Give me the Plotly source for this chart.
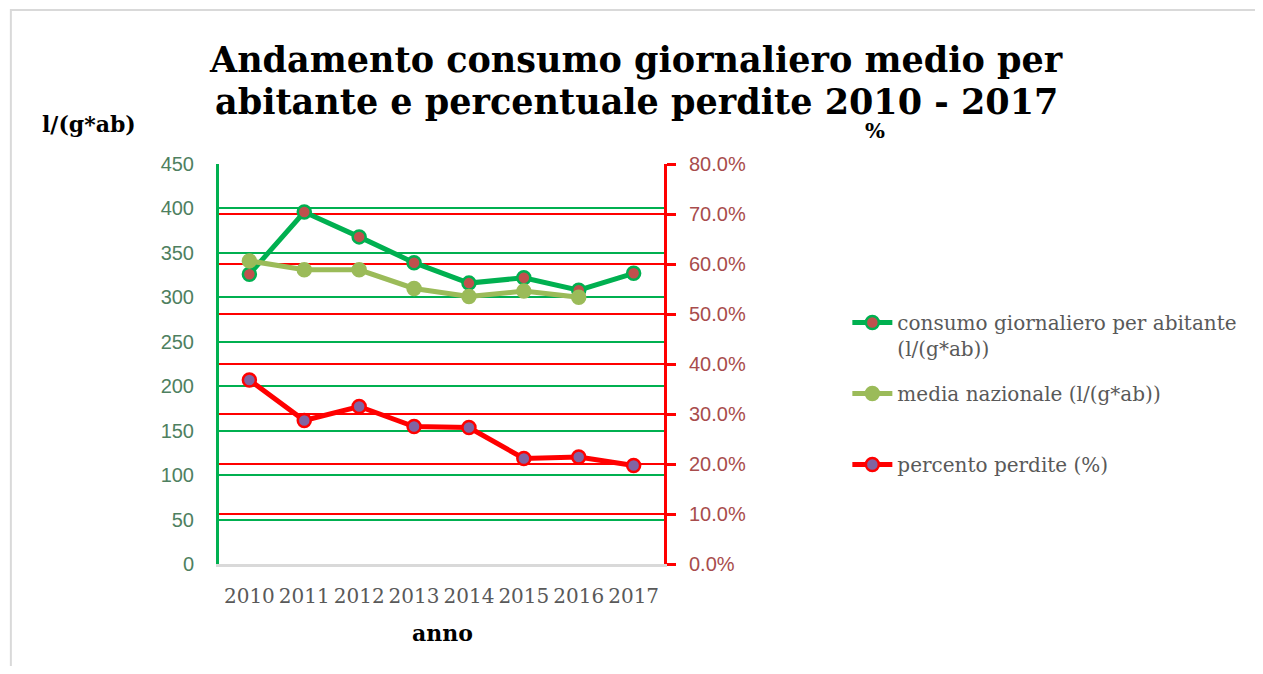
import plotly.graph_objects as go

years = ["2010", "2011", "2012", "2013", "2014", "2015", "2016", "2017"]
consumo = [326, 396, 368, 339, 316, 322, 308, 327]
media_naz = [341, 331, 331, 310, 301, 307, 300, None]
perdite = [0.368, 0.287, 0.315, 0.275, 0.273, 0.211, 0.214, 0.197]

names = ["consumo giornaliero per abitante<br>(l/(g*ab))",
         "media nazionale (l/(g*ab))<br> ",
         "percento perdite (%)<br> "]

# page offset (browser body margin)
OFF = 8
W, H = 1263 - 2 * OFF, 674 - 2 * OFF
# plot area in page pixels
L, R, T, B = 219, 668, 164, 564

def px(x):
    return (x - L) / (R - L)

def py(y):
    return (B - y) / (B - T)

SERIF = "DejaVu Serif"
SANS = "Liberation Sans"

fig = go.Figure()
fig.add_trace(go.Scatter(
    x=years, y=consumo, name=names[0], mode="lines+markers", legendgroup="a",
    line=dict(color="#00b050", width=5),
    marker=dict(size=13, color="#c0504d", line=dict(color="#00b050", width=2.5)),
))
fig.add_trace(go.Scatter(
    x=years, y=media_naz, name=names[1], mode="lines+markers", legendgroup="b",
    line=dict(color="#9bbb59", width=5),
    marker=dict(size=13, color="#9bbb59", line=dict(color="#9bbb59", width=2.5)),
))
fig.add_trace(go.Scatter(
    x=years, y=perdite, name=names[2], mode="lines+markers", legendgroup="c",
    yaxis="y2",
    line=dict(color="#ff0000", width=5),
    marker=dict(size=13, color="#8064a2", line=dict(color="#ff0000", width=2.5)),
))

fig.update_layout(
    width=W, height=H,
    margin=dict(l=L - OFF, r=W - (R - OFF), t=T - OFF, b=H - (B - OFF), pad=0),
    paper_bgcolor="white", plot_bgcolor="white",
    showlegend=True,
    legend=dict(
        x=px(853), y=py(303), xanchor="left", yanchor="top",
        font=dict(family=SERIF, size=20, color="#595959"),
        valign="top", tracegroupgap=16, bgcolor="rgba(0,0,0,0)",
        itemwidth=40,
    ),
    xaxis=dict(
        type="category", showgrid=False, showline=True, linecolor="#d9d9d9", linewidth=3,
        ticks="", tickfont=dict(family=SERIF, size=20, color="#595959"),
        ticklabelstandoff=12, zeroline=False,
    ),
    yaxis=dict(
        range=[0, 450], dtick=50, showgrid=True, gridcolor="#00b050", gridwidth=2,
        showline=True, linecolor="#00b050", linewidth=3, zeroline=False,
        ticks="", tickfont=dict(family=SANS, size=20, color="#4e8060"),
        ticklabelstandoff=18,
    ),
    yaxis2=dict(
        range=[0, 0.8], dtick=0.1, tickformat=".1%", overlaying="y", side="right",
        showgrid=True, gridcolor="#ff0000", gridwidth=2,
        showline=True, linecolor="#ff0000", linewidth=3, zeroline=False,
        ticks="outside", ticklen=9, tickwidth=3, tickcolor="#ff0000",
        tickfont=dict(family=SANS, size=20, color="#a84c4c"),
        ticklabelstandoff=9,
    ),
    annotations=[
        dict(text="<b>Andamento consumo giornaliero medio per</b>",
             x=px(640), y=py(59), xref="paper", yref="paper", xanchor="center", yanchor="middle",
             showarrow=False, font=dict(family=SERIF, size=35, color="black")),
        dict(text="<b>abitante e percentuale perdite 2010 - 2017</b>",
             x=px(640), y=py(101), xref="paper", yref="paper", xanchor="center", yanchor="middle",
             showarrow=False, font=dict(family=SERIF, size=35, color="black")),
        dict(text="<b>l/(g*ab)</b>", x=px(88), y=py(124), xref="paper", yref="paper",
             xanchor="center", yanchor="middle", showarrow=False,
             font=dict(family=SERIF, size=22, color="black")),
        dict(text="<b>%</b>", x=px(881), y=py(130), xref="paper", yref="paper",
             xanchor="center", yanchor="middle", showarrow=False,
             font=dict(family=SERIF, size=21, color="black")),
        dict(text="<b>anno</b>", x=px(445), y=py(633), xref="paper", yref="paper",
             xanchor="center", yanchor="middle", showarrow=False,
             font=dict(family=SERIF, size=22, color="black")),
    ],
    shapes=[
        dict(type="rect", xref="paper", yref="paper",
             x0=px(9), x1=px(1400), y0=py(10), y1=py(800),
             line=dict(color="#d9d9d9", width=2), layer="below"),
    ],
)

fig.write_html("out.html")
